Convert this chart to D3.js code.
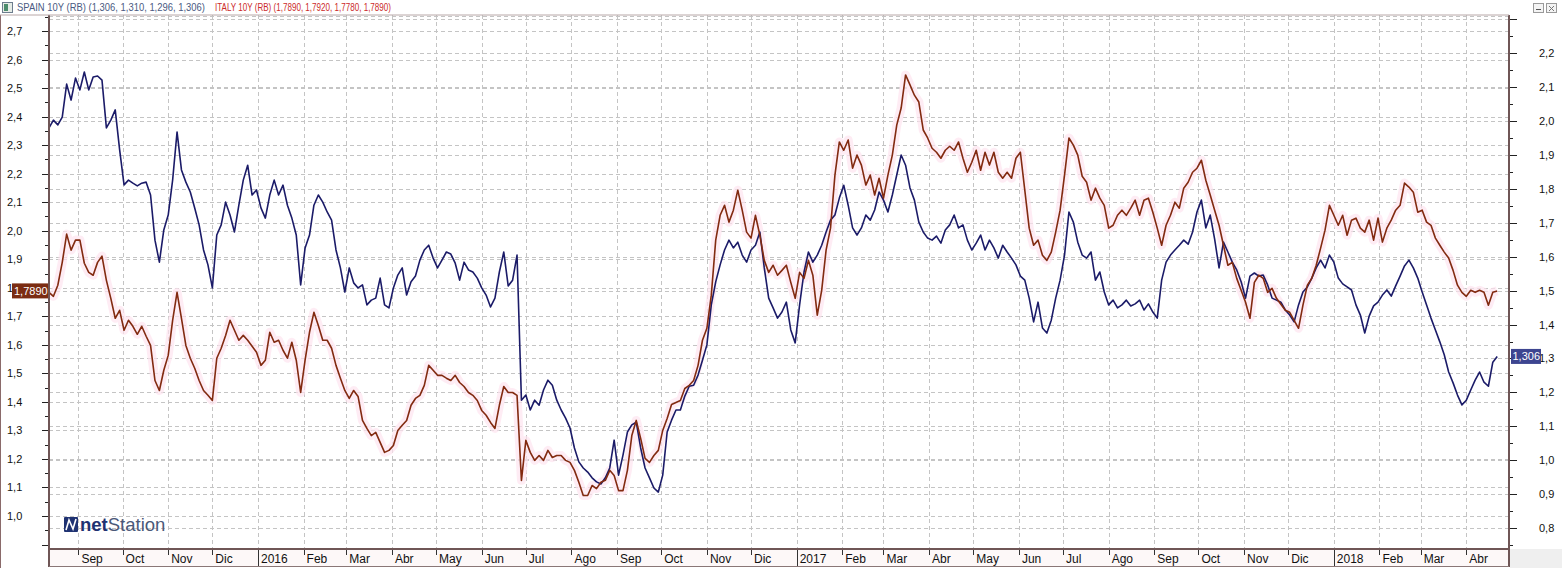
<!DOCTYPE html>
<html><head><meta charset="utf-8">
<script src="https://cdn.jsdelivr.net/npm/d3@7"></script>
<style>
body{margin:0;background:#fff;overflow:hidden}
svg{display:block;font-family:Arial,"Liberation Sans",sans-serif}
</style></head><body>
<svg id="c" width="1562" height="568"></svg>
<script>
// ---- data ----
const startDate = "2015-08-12";
const stepDays = 3;
const spainValues = [
1.980,2.003,1.989,2.012,2.109,2.062,2.127,2.092,2.145,2.092,
2.130,2.133,2.121,1.980,2.003,2.033,1.915,1.812,1.826,1.817,
1.809,1.817,1.820,1.782,1.649,1.584,1.679,1.723,1.826,1.968,
1.856,1.820,1.791,1.744,1.694,1.620,1.576,1.508,1.664,1.694,
1.761,1.723,1.673,1.752,1.826,1.870,1.782,1.797,1.744,1.714,
1.782,1.826,1.782,1.811,1.752,1.714,1.664,1.517,1.626,1.664,
1.752,1.782,1.761,1.732,1.708,1.620,1.567,1.496,1.567,1.523,
1.508,1.517,1.458,1.472,1.478,1.537,1.458,1.449,1.508,1.546,
1.567,1.487,1.526,1.543,1.590,1.620,1.634,1.596,1.567,1.590,
1.614,1.608,1.581,1.531,1.584,1.561,1.555,1.537,1.508,1.487,
1.452,1.478,1.555,1.614,1.514,1.531,1.605,1.177,1.192,1.148,
1.177,1.162,1.207,1.236,1.221,1.177,1.148,1.124,1.095,1.036,
0.995,0.977,0.965,0.948,0.936,0.930,0.948,0.977,1.059,0.956,
1.015,1.083,1.104,1.112,1.036,0.977,0.948,0.918,0.906,0.956,
1.083,1.118,1.148,1.148,1.189,1.218,1.221,1.251,1.295,1.340,
1.458,1.526,1.576,1.620,1.649,1.626,1.643,1.605,1.584,1.620,
1.634,1.673,1.567,1.478,1.449,1.419,1.437,1.466,1.384,1.346,
1.458,1.555,1.614,1.584,1.605,1.634,1.673,1.708,1.723,1.773,
1.811,1.752,1.685,1.664,1.685,1.723,1.708,1.738,1.791,1.767,
1.732,1.782,1.841,1.900,1.870,1.803,1.767,1.702,1.673,1.655,
1.649,1.661,1.640,1.679,1.694,1.723,1.685,1.694,1.649,1.620,
1.640,1.664,1.620,1.649,1.626,1.596,1.634,1.614,1.596,1.576,
1.543,1.531,1.478,1.408,1.466,1.390,1.375,1.413,1.478,1.531,
1.605,1.732,1.702,1.643,1.605,1.596,1.614,1.531,1.555,1.496,
1.458,1.472,1.449,1.458,1.472,1.455,1.461,1.472,1.443,1.461,
1.437,1.419,1.531,1.584,1.605,1.620,1.634,1.649,1.637,1.673,
1.732,1.767,1.685,1.723,1.652,1.567,1.643,1.614,1.584,1.561,
1.526,1.478,1.543,1.552,1.543,1.546,1.517,1.478,1.472,1.466,
1.443,1.428,1.408,1.458,1.496,1.511,1.537,1.567,1.590,1.567,
1.605,1.584,1.537,1.520,1.511,1.502,1.458,1.428,1.375,1.425,
1.455,1.466,1.487,1.502,1.484,1.514,1.543,1.573,1.590,1.567,
1.537,1.496,1.458,1.419,1.384,1.349,1.311,1.260,1.228,1.192,
1.163,1.177,1.207,1.236,1.260,1.230,1.218,1.289,1.306];
const italyValues = [
1.784,1.770,1.809,1.889,1.988,1.932,1.967,1.967,1.886,1.854,
1.844,1.889,1.911,1.826,1.763,1.693,1.721,1.651,1.686,1.665,
1.637,1.665,1.630,1.598,1.475,1.440,1.511,1.563,1.686,1.784,
1.693,1.598,1.553,1.518,1.475,1.440,1.423,1.405,1.553,1.588,
1.633,1.686,1.651,1.616,1.633,1.616,1.595,1.574,1.528,1.546,
1.644,1.609,1.616,1.581,1.553,1.609,1.546,1.433,1.546,1.644,
1.714,1.668,1.616,1.616,1.588,1.528,1.483,1.440,1.412,1.440,
1.419,1.335,1.307,1.282,1.293,1.258,1.223,1.230,1.247,1.300,
1.318,1.335,1.388,1.412,1.423,1.458,1.528,1.511,1.493,1.493,
1.483,1.475,1.493,1.468,1.454,1.433,1.423,1.405,1.370,1.353,
1.328,1.307,1.388,1.454,1.433,1.433,1.423,1.125,1.265,1.223,
1.195,1.212,1.195,1.230,1.205,1.212,1.212,1.195,1.188,1.160,
1.118,1.072,1.072,1.107,1.096,1.118,1.125,1.160,1.142,1.089,
1.089,1.160,1.282,1.335,1.272,1.202,1.188,1.212,1.230,1.300,
1.342,1.391,1.398,1.405,1.447,1.458,1.475,1.528,1.616,1.658,
1.774,1.967,2.054,2.089,2.030,2.072,2.142,2.072,1.995,1.974,
2.054,1.984,1.896,1.854,1.879,1.844,1.861,1.879,1.819,1.763,
1.854,1.833,1.896,1.844,1.704,1.791,1.932,2.009,2.195,2.311,
2.282,2.318,2.219,2.265,2.230,2.160,2.195,2.125,2.184,2.114,
2.195,2.265,2.370,2.430,2.546,2.511,2.475,2.451,2.353,2.325,
2.289,2.275,2.254,2.282,2.296,2.282,2.311,2.254,2.205,2.240,
2.282,2.212,2.275,2.230,2.275,2.205,2.184,2.205,2.184,2.254,
2.275,2.142,2.009,1.949,1.967,1.914,1.896,1.925,1.995,2.072,
2.195,2.325,2.300,2.265,2.191,2.170,2.107,2.149,2.114,2.089,
2.009,2.019,2.054,2.072,2.054,2.079,2.107,2.054,2.107,2.114,
2.065,2.009,1.949,2.019,2.054,2.100,2.079,2.149,2.170,2.205,
2.219,2.247,2.177,2.125,2.072,2.019,1.949,1.879,1.889,1.833,
1.791,1.749,1.693,1.819,1.844,1.833,1.784,1.798,1.763,1.742,
1.721,1.714,1.686,1.658,1.739,1.809,1.833,1.879,1.939,2.002,
2.089,2.054,2.019,2.054,1.984,2.037,2.044,2.009,1.995,2.037,
1.967,2.044,1.960,2.009,2.037,2.072,2.089,2.167,2.153,2.135,
2.065,2.072,2.030,2.019,1.974,1.949,1.925,1.904,1.861,1.809,
1.784,1.770,1.791,1.784,1.791,1.784,1.739,1.784,1.789];
const monthLabels = ["Sep","Oct","Nov","Dic","2016","Feb","Mar","Abr","May","Jun","Jul","Ago",
  "Sep","Oct","Nov","Dic","2017","Feb","Mar","Abr","May","Jun","Jul","Ago",
  "Sep","Oct","Nov","Dic","2018","Feb","Mar","Abr"];
const firstMonth = "2015-09-01";
const leftTickLabels = ["1,0","1,1","1,2","1,3","1,4","1,5","1,6","1,7","1,8","1,9","2,0","2,1","2,2","2,3","2,4","2,5","2,6","2,7"];
const rightTickLabels = ["0,8","0,9","1,0","1,1","1,2","1,3","1,4","1,5","1,6","1,7","1,8","1,9","2,0","2,1","2,2"];
const spainHeader = "SPAIN 10Y (RB) (1,306, 1,310, 1,296, 1,306)";
const italyHeader = "ITALY 10Y (RB) (1,7890, 1,7920, 1,7780, 1,7890)";
const spainLast = "1,306", italyLast = "1,7890";

// ---- layout ----
const L = 49, R = 1509, T = 15, B = 549;
const svg = d3.select("#c");
const parse = d3.utcParse("%Y-%m-%d");
const t0 = parse(startDate);
const spain = spainValues.map((v,i)=>({d:d3.utcDay.offset(t0,i*stepDays),v}));
const italy = italyValues.map((v,i)=>({d:d3.utcDay.offset(t0,i*stepDays),v}));

const x = d3.scaleUtc().domain([t0, parse("2018-04-30")]).range([L, R]);
const yL = d3.scaleLinear().domain([1.0, 2.7]).range([516, 31]);
const yR = d3.scaleLinear().domain([0.8, 2.2]).range([528, 53.3]);

// backgrounds
svg.append("rect").attr("x",0).attr("y",0).attr("width",1562).attr("height",568).attr("fill","#fff");
svg.append("rect").attr("x",L).attr("y",B).attr("width",R-L).attr("height",18).attr("fill","#fdf8f8");
svg.append("rect").attr("x",R+1).attr("y",B).attr("width",1562-R).attr("height",20).attr("fill","#efefef");

// grid
const grid = svg.append("g").attr("stroke","#c4c4c4").attr("stroke-dasharray","4,3").attr("stroke-width",1);
const leftMajor = d3.range(leftTickLabels.length).map(i=>1.0+i*0.1);
const rightMajor = d3.range(rightTickLabels.length+1).map(i=>0.8+i*0.1);
grid.selectAll(".gl").data(leftMajor).join("line")
  .attr("x1",L).attr("x2",R).attr("y1",d=>Math.round(yL(d))+0.5).attr("y2",d=>Math.round(yL(d))+0.5);
grid.selectAll(".gr").data(rightMajor).join("line")
  .attr("x1",L).attr("x2",R).attr("y1",d=>Math.round(yR(d))+0.5).attr("y2",d=>Math.round(yR(d))+0.5);
const months = d3.utcMonth.range(parse(firstMonth), d3.utcMonth.offset(parse(firstMonth), monthLabels.length));
grid.selectAll(".gv").data(months).join("line")
  .attr("y1",T).attr("y2",B).attr("x1",d=>Math.round(x(d))+0.5).attr("x2",d=>Math.round(x(d))+0.5);
grid.append("line").attr("x1",L).attr("x2",R).attr("y1",T+1.5).attr("y2",T+1.5);

// lines
const lineL = d3.line().x(d=>x(d.d)).y(d=>yL(d.v));
const lineR = d3.line().x(d=>x(d.d)).y(d=>yR(d.v));
svg.append("path").datum(italy).attr("d",lineL).attr("fill","none")
  .attr("stroke","#fde4ef").attr("stroke-width",9).attr("stroke-linejoin","round").attr("opacity",0.7);
svg.append("path").datum(spain).attr("d",lineR).attr("fill","none")
  .attr("stroke","#1b1b68").attr("stroke-width",1.6).attr("stroke-linejoin","round");
svg.append("path").datum(italy).attr("d",lineL).attr("fill","none")
  .attr("stroke","#822a10").attr("stroke-width",1.6).attr("stroke-linejoin","round");

// left axis
const leftAll = d3.range(0, 38).map(i=>0.9+i*0.05);
const ax = svg.append("g").attr("font-size",11).attr("fill","#111");
ax.selectAll(".tl").data(leftAll).join("line")
  .attr("x1",(d,i)=> i%2===0 ? L-7 : L-4).attr("x2",L)
  .attr("y1",d=>Math.round(yL(d))+0.5).attr("y2",d=>Math.round(yL(d))+0.5).attr("stroke","#222");
ax.selectAll(".tlt").data(leftTickLabels).join("text")
  .attr("x",7).attr("y",(d,i)=>yL(leftMajor[i])+4).text(d=>d);
// right axis
const rightAll = d3.range(0, 32).map(i=>0.75+i*0.05);
ax.selectAll(".tr").data(rightAll).join("line")
  .attr("x1",R).attr("x2",(d,i)=> i%2===1 ? R+8 : R+4)
  .attr("y1",d=>Math.round(yR(d))+0.5).attr("y2",d=>Math.round(yR(d))+0.5).attr("stroke","#222");
ax.selectAll(".trt").data(rightTickLabels).join("text")
  .attr("x",1539).attr("y",(d,i)=>yR(rightMajor[i])+4).text(d=>d);

// frame lines
svg.append("line").attr("x1",L).attr("x2",L).attr("y1",T).attr("y2",B+18).attr("stroke","#6f5656").attr("stroke-width",2);
svg.append("line").attr("x1",R).attr("x2",R).attr("y1",T).attr("y2",B+18).attr("stroke","#6f5656").attr("stroke-width",2);
svg.append("line").attr("x1",L).attr("x2",R).attr("y1",B).attr("y2",B).attr("stroke","#6f5656").attr("stroke-width",2);
svg.append("line").attr("x1",L).attr("x2",R).attr("y1",B+17.5).attr("y2",B+17.5).attr("stroke","#8a7777").attr("stroke-width",1);
svg.append("line").attr("x1",0.5).attr("x2",0.5).attr("y1",T).attr("y2",568).attr("stroke","#8a6a6a").attr("stroke-width",1);
svg.append("line").attr("x1",0).attr("x2",R).attr("y1",T).attr("y2",T).attr("stroke","#b8a8a8").attr("stroke-width",1);

// bottom axis
const bx = svg.append("g").attr("font-size",12).attr("fill","#111");
bx.selectAll(".bt").data(months).join("line")
  .attr("x1",d=>Math.round(x(d))+0.5).attr("x2",d=>Math.round(x(d))+0.5)
  .attr("y1",B+1).attr("y2",(d,i)=> monthLabels[i].length===4 ? B+17 : B+6)
  .attr("stroke","#333");
bx.selectAll(".btt").data(months).join("text")
  .attr("x",d=>x(d)+3).attr("y",B+14).text((d,i)=>monthLabels[i]);

// header
const hd = svg.append("g").attr("font-size",10.5);
hd.append("rect").attr("x",2.5).attr("y",2.5).attr("width",10).attr("height",10).attr("fill","#e6ece6").attr("stroke","#6d7d8d");
hd.append("rect").attr("x",4).attr("y",4).attr("width",4).attr("height",7).attr("fill","#4d8d6d");
hd.append("text").attr("x",17).attr("y",11).attr("fill","#4a5a82")
  .attr("textLength",188).attr("lengthAdjust","spacingAndGlyphs").text(spainHeader);
hd.append("text").attr("x",215).attr("y",11).attr("fill","#cc2a2a")
  .attr("textLength",176).attr("lengthAdjust","spacingAndGlyphs").text(italyHeader);
[1533,1546].forEach((bxx,i)=>{
  hd.append("rect").attr("x",bxx+0.5).attr("y",3.5).attr("width",10).attr("height",9).attr("fill","#f4f4f4").attr("stroke","#9a9a9a");
  if(i===0) hd.append("line").attr("x1",bxx+3).attr("x2",bxx+8).attr("y1",9.5).attr("y2",9.5).attr("stroke","#555");
  else { hd.append("path").attr("d",`M${bxx+3},6 L${bxx+8},11 M${bxx+8},6 L${bxx+3},11`).attr("stroke","#777"); }
});

// last value labels
const ly = yL(italyValues[italyValues.length-1]);
svg.append("rect").attr("x",12).attr("y",ly-7.5).attr("width",36).attr("height",15).attr("fill","#7b2c12");
svg.append("text").attr("x",14).attr("y",ly+4).attr("font-size",11).attr("fill","#fff").text(italyLast);
const ry = yR(spainValues[spainValues.length-1]);
svg.append("rect").attr("x",1511).attr("y",ry-7.5).attr("width",30).attr("height",15).attr("fill","#3d4590");
svg.append("text").attr("x",1512.5).attr("y",ry+4).attr("font-size",11).attr("fill","#fff").text(spainLast);

// logo
const lg = svg.append("g");
lg.append("rect").attr("x",64).attr("y",517).attr("width",14).attr("height",15).attr("rx",1).attr("fill","#1f3272");
lg.append("path").attr("d","M66,530 L69,520 L73,529 L76,519").attr("fill","none").attr("stroke","#fff").attr("stroke-width",1.6);
const lt = lg.append("text").attr("x",80).attr("y",531).attr("font-size",18.5);
lt.append("tspan").attr("font-weight","bold").attr("fill","#1f3272").text("net");
lt.append("tspan").attr("fill","#4a5878").text("Station");
</script>
</body></html>
